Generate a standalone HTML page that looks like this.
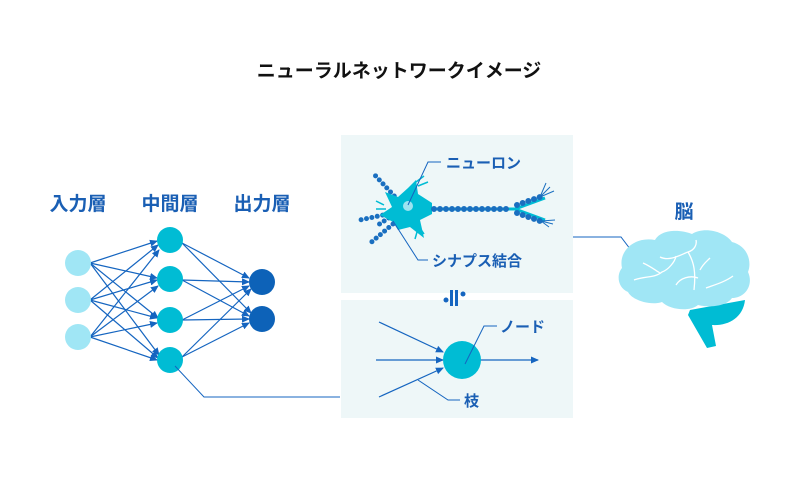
<!DOCTYPE html>
<html><head><meta charset="utf-8"><style>
html,body{margin:0;padding:0;background:#fff;}
svg{display:block;font-family:"Liberation Sans","Noto Sans CJK JP",sans-serif;}
</style></head><body>
<svg width="798" height="498" viewBox="0 0 798 498" xmlns="http://www.w3.org/2000/svg">
<defs>
<marker id="a" markerWidth="8" markerHeight="8" refX="7" refY="4" orient="auto" markerUnits="userSpaceOnUse"><path d="M0,0.5 L8,4 L0,7.5z" fill="#1565c0"/></marker>
</defs>
<text x="399" y="77" text-anchor="middle" font-size="19" font-weight="bold" fill="#111">ニューラルネットワークイメージ</text>
<g font-size="19" font-weight="bold" fill="#1a5fb4">
<text x="78" y="210" text-anchor="middle">入力層</text>
<text x="170" y="210" text-anchor="middle">中間層</text>
<text x="262" y="210" text-anchor="middle">出力層</text>
<text x="684" y="218" text-anchor="middle">脳</text>
</g>
<rect x="341" y="135" width="232" height="158" fill="#eef7f8"/>
<rect x="341" y="300" width="232" height="118" fill="#eef7f8"/>
<g stroke="#1565c0" stroke-width="1.2" marker-end="url(#a)">
<line x1="90" y1="263" x2="157" y2="241"/><line x1="90" y1="263" x2="157" y2="278"/><line x1="90" y1="263" x2="158" y2="318"/><line x1="90" y1="263" x2="159" y2="355"/>
<line x1="90" y1="300" x2="158" y2="245"/><line x1="90" y1="300" x2="157" y2="280"/><line x1="90" y1="300" x2="157" y2="318"/><line x1="90" y1="300" x2="158" y2="358"/>
<line x1="90" y1="337" x2="159" y2="250"/><line x1="90" y1="337" x2="158" y2="286"/><line x1="90" y1="337" x2="157" y2="323"/><line x1="90" y1="337" x2="157" y2="360"/>
<line x1="182" y1="243" x2="249" y2="278"/><line x1="182" y1="243" x2="251" y2="313"/>
<line x1="182" y1="280" x2="249" y2="282"/><line x1="182" y1="280" x2="249" y2="316"/>
<line x1="182" y1="320" x2="249" y2="286"/><line x1="182" y1="320" x2="249" y2="319"/>
<line x1="182" y1="357" x2="251" y2="289"/><line x1="182" y1="357" x2="249" y2="323"/>
<line x1="379" y1="322" x2="443" y2="352"/><line x1="376" y1="360" x2="443" y2="360"/><line x1="379" y1="397" x2="443" y2="368"/>
<line x1="480" y1="360" x2="538" y2="360"/>
</g>
<g fill="#a0e6f5"><circle cx="78" cy="263" r="13"/><circle cx="78" cy="300" r="13"/><circle cx="78" cy="337" r="13"/></g>
<g fill="#00bcd4"><circle cx="170" cy="240" r="13"/><circle cx="170" cy="279" r="13"/><circle cx="170" cy="320" r="13"/><circle cx="170" cy="360" r="13"/><circle cx="462" cy="360" r="19"/></g>
<g fill="#0d62b8"><circle cx="262" cy="282" r="13"/><circle cx="262" cy="319" r="13"/></g>
<!-- neuron -->
<g>
<g stroke="#1a6fc0" stroke-linecap="round" fill="none">
<path d="M398,200 L372,172" stroke-width="5" stroke-dasharray="0 5.5"/>
<path d="M388,214 L360,220" stroke-width="5" stroke-dasharray="0 5.5"/>
<path d="M393,224 L368,245" stroke-width="5" stroke-dasharray="0 5.5"/>
<path d="M398,212 L378,225" stroke-width="5" stroke-dasharray="0 5.5"/>
</g>
<path d="M408,188 L416,180 L418,194 L432,203 L432,214 L420,220 L424,238 L410,227 L398,230 L393,222 L380,215 L392,207 L385,192 L398,197 Z" fill="#00bcd4"/>
<g stroke="#00bcd4" stroke-width="1.5"><path d="M416,182 l8,-6 M418,186 l10,-4 M384,205 l-8,-4 M386,209 l-10,0 M420,228 l4,6 M417,232 l-2,7"/></g>
<circle cx="408" cy="206" r="5" fill="#9ee3f0"/>
<path d="M430,209 L515,209 L545,198 M515,209 L545,220" stroke="#00bcd4" stroke-width="3" fill="none"/>
<g stroke="#1a6fc0" stroke-linecap="round" fill="none" stroke-width="6" stroke-dasharray="0 6">
<path d="M434,209 L512,209"/>
<path d="M517,205 L540,197"/><path d="M517,213 L540,221"/>
</g>
<g stroke="#1a6fc0" stroke-width="1" fill="none">
<path d="M540,197 l6,-14 M540,197 l10,-10 M540,197 l14,-6 M541,221 l12,3 M541,221 l14,-1 M541,221 l8,6"/>
</g>
</g>
<g stroke="#1565c0" stroke-width="1" fill="none">
<polyline points="175,366 204,397 340,397"/>
<polyline points="573,237 621,237 640,262"/>
<polyline points="465,364 484,326 497,326"/>
<polyline points="418,380 448,400 460,400"/>
<polyline points="408,205 428,162 441,162"/>
<polyline points="393,221 418,260 428,260"/>
</g>
<g font-size="15" font-weight="bold" fill="#1a5fb4">
<text x="446" y="168">ニューロン</text>
<text x="432" y="266">シナプス結合</text>
<text x="500" y="332">ノード</text>
<text x="464" y="406">枝</text>
</g>
<g fill="#1565c0"><circle cx="446" cy="300" r="2.5"/><rect x="450" y="290" width="3" height="16"/><rect x="455" y="290" width="3" height="16"/><circle cx="463" cy="294" r="2.5"/></g>
<!-- brain -->
<path d="M690,310 L745,300 C743,318 728,326 712,325 L716,346 L707,348 L688,315 Z" fill="#00bcd4"/>
<path d="M622,268 C618,250 636,236 655,240 C662,228 682,230 692,234 C705,226 725,232 732,242 C748,246 752,262 748,272 C754,285 745,298 732,298 C725,308 705,307 698,305 C690,312 670,310 662,302 C650,306 632,300 628,292 C618,288 616,275 622,268 Z" fill="#a0e6f5"/>
<g stroke="#fff" stroke-width="1.3" fill="none">
<path d="M634,280 C645,276 655,278 662,272 C668,270 675,262 676,256 M643,263 C650,266 655,270 660,273 M660,257 C670,262 682,254 688,252 C695,250 697,244 696,240 M688,252 C694,262 696,272 694,290 M700,270 C703,264 706,262 710,258 M706,288 C714,285 725,282 733,276 M676,285 C680,278 690,275 698,278"/>
</g>
</svg>
</body></html>
